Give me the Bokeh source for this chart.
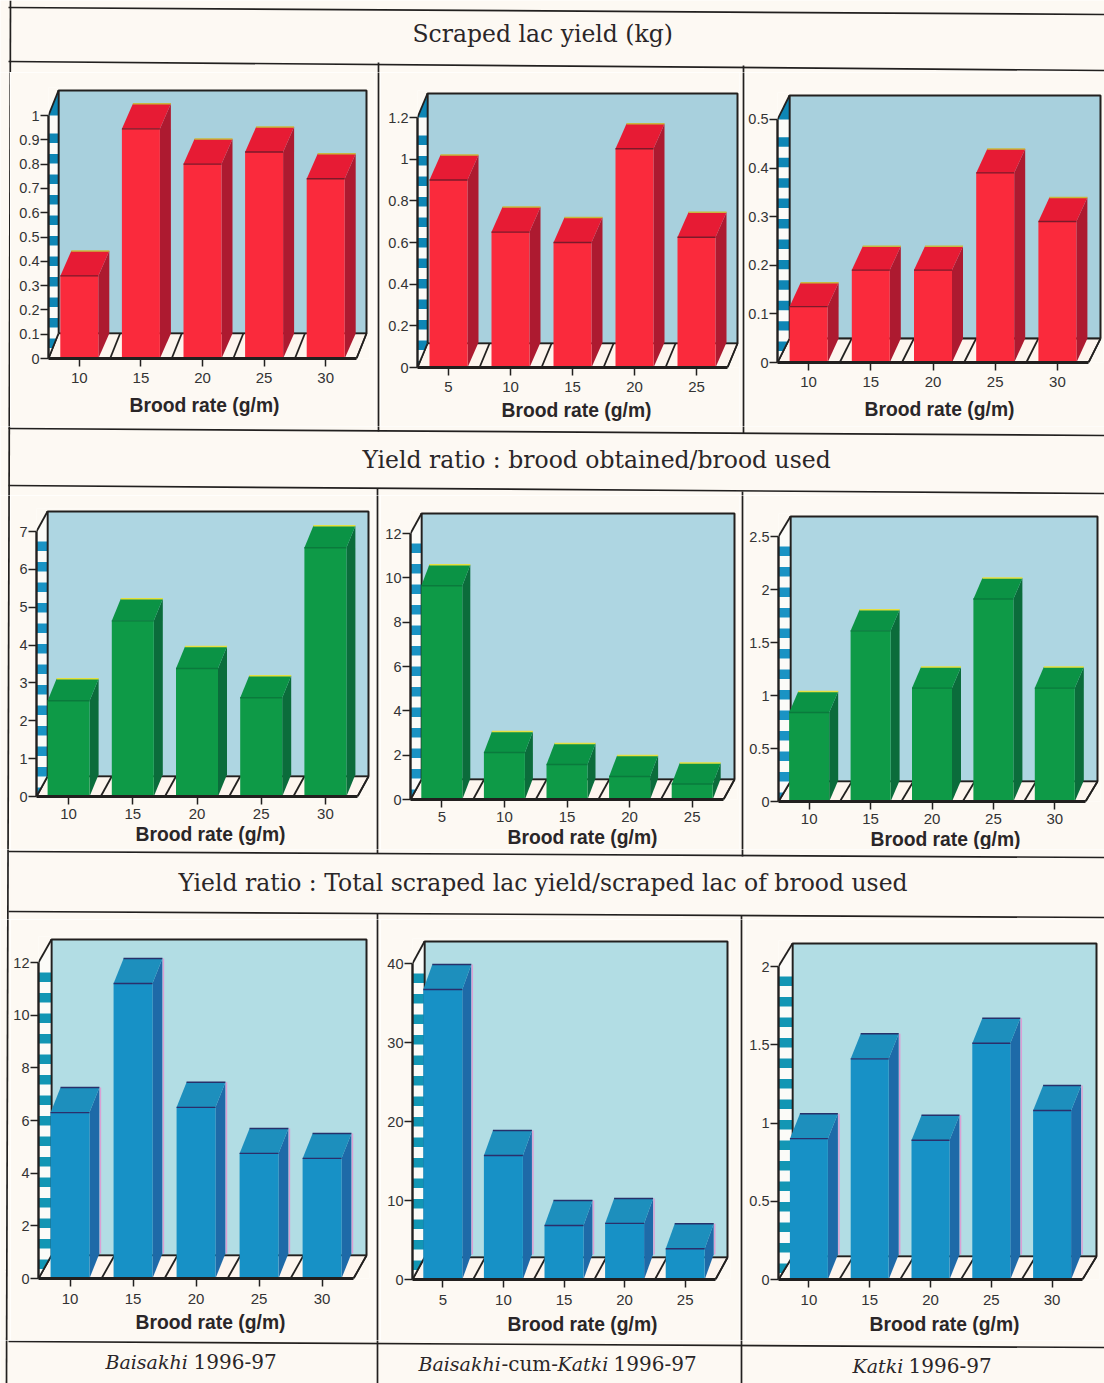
from bokeh.plotting import figure
from bokeh.layouts import column, row
from bokeh.models import (ColumnDataSource, FixedTicker, LinearAxis, NumeralTickFormatter, Range1d, Title)
from bokeh.core.properties import value
from bokeh.embed import file_html
from bokeh.resources import INLINE

# Chart values, one list per panel
rates_a = ["10", "15", "20", "25", "30"]
rates_b = ["5", "10", "15", "20", "25"]

lac_baisakhi = [0.34, 0.945, 0.80, 0.85, 0.74]
lac_mixed = [0.90, 0.65, 0.60, 1.05, 0.625]
lac_katki = [0.115, 0.19, 0.19, 0.39, 0.29]

brood_baisakhi = [2.53, 4.64, 3.38, 2.61, 6.57]
brood_mixed = [9.64, 2.12, 1.58, 1.04, 0.7]
brood_katki = [0.84, 1.61, 1.07, 1.91, 1.07]

total_baisakhi = [6.3, 11.2, 6.5, 4.75, 4.56]
total_mixed = [36.7, 15.7, 6.84, 7.1, 3.9]
total_katki = [0.90, 1.41, 0.89, 1.51, 1.08]

ticks_lac_a = [0, 0.1, 0.2, 0.3, 0.4, 0.5, 0.6, 0.7, 0.8, 0.9, 1]
ticks_lac_b = [0, 0.2, 0.4, 0.6, 0.8, 1, 1.2]
ticks_lac_c = [0, 0.1, 0.2, 0.3, 0.4, 0.5]
ticks_brood_a = [0, 1, 2, 3, 4, 5, 6, 7]
ticks_brood_b = [0, 2, 4, 6, 8, 10, 12]
ticks_brood_c = [0, 0.5, 1, 1.5, 2, 2.5]
ticks_total_a = [0, 2, 4, 6, 8, 10, 12]
ticks_total_b = [0, 10, 20, 30, 40]
ticks_total_c = [0, 0.5, 1, 1.5, 2]

title_lac = "Scraped lac yield (kg)"
title_brood = "Yield ratio : brood obtained/brood used"
title_total = "Yield ratio : Total scraped lac yield/scraped lac of brood used"
x_title = "Brood rate (g/m)"
X_TITLE_WIDTH = 150

PAPER = "#fdf9f3"
INK = "#22201f"
RED = dict(front="#fa2a3c", top="#e71b34", side="#ad1a30", edge="#c8b83c", line="#7c1a2a", stripe="#0e86b5", wall="#a8d0dd", fringe=None)
GREEN = dict(front="#0e9a47", top="#0b9345", side="#0b6c3b", edge="#e6e040", line="#0a7a3c", stripe="#1a93c4", wall="#aed6e2", fringe=None)
BLUE = dict(front="#1791c6", top="#1d8fbd", side="#1e6aa8", edge="#27306a", line="#2b2f6b", stripe="#1296b4", wall="#b2dde4", fringe="#dba0d4")

# Printed rules of the page: they lean a little, as on a scanned sheet
PAGE_RULES = [
    [(10, 0), (6, 1383)],
    [(8, 7), (1104, 14)],
    [(8, 61), (1104, 70)],
    [(8, 428), (1104, 435)],
    [(8, 485), (1104, 493)],
    [(8, 851), (1104, 857)],
    [(8, 911), (1104, 917)],
    [(8, 1341), (1104, 1347)],
    [(378, 62), (378, 431)],
    [(377, 488), (377, 853)],
    [(377, 913), (377, 1383)],
    [(743, 65), (743, 433)],
    [(742, 491), (742, 856)],
    [(741, 915), (741, 1383)],
]


def panel(cell, axis, wall, bar, rates, values, ticks, pal, label_x, label_gap, stripe_start, top_blue, tick_gap):
    fx, fy, fw, fh = cell
    x0, y0, xr, yt = axis
    dx, dy = wall
    bw, bdx, bdy = bar
    slot = (xr - x0) / len(rates)
    scale = (y0 - yt) / ticks[-1]
    ddx, ddy = dx / slot, dy / scale
    bx, by = bdx / slot, bdy / scale
    n = len(rates)
    frame_right = min(int(xr + dx + 3), fx + fw)
    frame_top = int(yt - dy - 3)
    x_end = (frame_right - x0) / slot
    y_end = (y0 - frame_top) / scale

    p = figure(width=fw, height=fh, output_backend="svg", toolbar_location=None,
               x_range=Range1d(0, x_end), y_range=Range1d(0, y_end),
               x_axis_type=None, y_axis_type=None, frame_align=False,
               min_border_left=x0 - fx, min_border_right=fx + fw - frame_right,
               min_border_top=frame_top - fy, min_border_bottom=fy + fh - y0,
               background_fill_color=PAPER, border_fill_color=PAPER, outline_line_color=None)
    p.grid.visible = False

    # Back wall and floor
    top = ticks[-1]
    p.patch([ddx, n + ddx, n + ddx, ddx], [ddy, ddy, top + ddy, top + ddy], fill_color=pal["wall"],
            line_color=INK, line_width=2)
    p.patch([0, n, n + ddx, ddx], [0, 0, ddy, ddy], fill_color="#fdf5ee", line_color=INK, line_width=1.6)

    # Striped left wall; low stripes stop at the slanted edge of the floor
    p.patch([0, ddx, ddx, 0], [0, ddy, top + ddy, top], fill_color="#fbfbf8", line_color=None)

    def reach(y):
        return min(y / ddy, 1) * ddx

    stripes_x, stripes_y = [], []
    band_h = 9.5 / scale
    period = 20.5 / scale
    y = top - stripe_start / scale
    while y > 0:
        lo, hi = max(y - band_h, 0), y
        if lo < ddy < hi:
            stripes_x.append([0, 0, ddx, ddx, reach(lo)])
            stripes_y.append([lo, hi, hi, ddy, lo])
        else:
            stripes_x.append([0, 0, reach(hi), reach(lo)])
            stripes_y.append([lo, hi, hi, lo])
        y -= period
    if top_blue:
        stripes_x.append([0, ddx, ddx])
        stripes_y.append([top, top + ddy, top])
    p.patches(stripes_x, stripes_y, fill_color=pal["stripe"], line_color=None)
    p.line([ddx, ddx], [ddy, top + ddy], line_color=INK, line_width=1.6)
    p.line([0, ddx], [top, top + ddy], line_color=INK, line_width=1.8)

    # Divisions of the floor
    p.segment(x0=list(range(n + 1)), y0=[0] * (n + 1),
              x1=[i + ddx for i in range(n + 1)], y1=[ddy] * (n + 1), line_color=INK, line_width=1.8)

    # Bars: side, top and front faces
    w = bw / slot
    lefts = [i + 0.5 - w / 2 for i in range(n)]
    rights = [l + w for l in lefts]
    centers = [i + 0.5 for i in range(n)]
    p.patches([[r, r + bx, r + bx, r] for r in rights],
              [[0, by, v + by, v] for v in values], fill_color=pal["side"], line_color=None)
    p.patches([[l, r, r + bx, l + bx] for l, r in zip(lefts, rights)],
              [[v, v, v + by, v + by] for v in values], fill_color=pal["top"], line_color=None)
    src = ColumnDataSource(dict(x=centers, top=values))
    p.vbar(x="x", top="top", bottom=0, width=w, source=src, fill_color=pal["front"], line_color=None)
    p.segment(x0=lefts, y0=values, x1=rights, y1=values, line_color=pal["line"], line_width=1.4)
    p.segment(x0=[l + bx for l in lefts], y0=[v + by for v in values],
              x1=[r + bx for r in rights], y1=[v + by for v in values],
              line_color=pal["edge"], line_width=1.5)
    if pal["fringe"]:
        p.segment(x0=[r + bx + 1 / slot for r in rights], y0=[by for _ in values],
                  x1=[r + bx + 1 / slot for r in rights], y1=[v + by for v in values],
                  line_color=pal["fringe"], line_width=1.5)

    # Axes
    yaxis = LinearAxis(ticker=FixedTicker(ticks=ticks), formatter=NumeralTickFormatter(format="0.[0]"),
                       bounds=(0, top), axis_line_color=INK, axis_line_width=2.4,
                       major_tick_line_color=INK, major_tick_line_width=1.5,
                       major_tick_out=8, major_tick_in=0, minor_tick_line_color=None,
                       major_label_standoff=1, major_label_text_font="Liberation Sans",
                       major_label_text_font_size="14.5px", major_label_text_color="#333333")
    p.add_layout(yaxis, "left")
    xaxis = LinearAxis(ticker=FixedTicker(ticks=centers),
                       major_label_overrides={c: t for c, t in zip(centers, rates)},
                       bounds=(0, n), axis_line_color=INK, axis_line_width=3,
                       major_tick_line_color=INK, major_tick_line_width=1.5,
                       major_tick_out=8, major_tick_in=0, minor_tick_line_color=None,
                       major_label_standoff=tick_gap, major_label_text_font="Liberation Sans",
                       major_label_text_font_size="15px", major_label_text_color="#333333")
    p.add_layout(xaxis, "below")

    # The axis title is set as a left-aligned title line so it can sit where the page has it
    p.add_layout(Title(text=x_title, align="left", offset=label_x - X_TITLE_WIDTH / 2 - x0,
                       standoff=label_gap, text_font="Liberation Sans", text_font_style="bold",
                       text_font_size="19.3px", text_color="#2a2628"), "below")
    return p


def strip(fx, fy, fw, fh, texts=()):
    # A piece of bare page, addressed directly in page pixels
    p = figure(width=fw, height=fh, output_backend="svg", toolbar_location=None,
               x_range=Range1d(fx, fx + fw), y_range=Range1d(fy + fh, fy),
               x_axis_type=None, y_axis_type=None, min_border=0, frame_align=False,
               background_fill_color=PAPER, border_fill_color=PAPER, outline_line_color=None)
    p.grid.visible = False
    for (ax, ay), (bx, by) in PAGE_RULES:
        p.line([ax, bx], [ay, by], line_color=INK, line_width=1.7)
    for x, y, txt, font, size, style in texts:
        p.text([x], [y], text=[txt], text_font=value(font), text_font_size=f"{size}px",
               text_font_style=style, text_baseline="middle", text_align="left", text_color="#2a2628")
    return p


SERIF = "DejaVu Serif"

top_band = strip(0, 0, 1104, 72, [(412, 33, title_lac, SERIF, 23.5, "normal")])
mid_band = strip(0, 426, 1104, 69, [(362, 459, title_brood, SERIF, 23.5, "normal")])
low_band = strip(0, 849, 1104, 70, [(178, 882, title_total, SERIF, 23.5, "normal")])
foot_band = strip(0, 1340, 1104, 43, [
    (105, 1361, "Baisakhi", SERIF, 19, "italic"),
    (193, 1361, "1996-97", SERIF, 20, "normal"),
    (418, 1363, "Baisakhi", SERIF, 19, "italic"),
    (501, 1363, "-cum-", SERIF, 20, "normal"),
    (557, 1363, "Katki", SERIF, 19, "italic"),
    (613, 1363, "1996-97", SERIF, 20, "normal"),
    (852, 1365, "Katki", SERIF, 19, "italic"),
    (908, 1365, "1996-97", SERIF, 20, "normal"),
])


def chart_row(fy, fh, charts):
    cells = [(10, 364), (380, 359), (745, 359)]
    gutters = [(0, 10), (374, 6), (739, 6)]
    kids = []
    for (gx, gw), (cx, cw), args in zip(gutters, cells, charts):
        kids.append(strip(gx, fy, gw, fh))
        kids.append(panel((cx, fy, cw, fh), *args))
    return row(*kids, spacing=0)


row1 = chart_row(72, 354, [
    ((48, 358, 356, 115), (10, 25), (38, 11, 25), rates_a, lac_baisakhi, ticks_lac_a, RED, 204, 15, 18, True, 6),
    ((417, 367, 727, 117), (10, 24), (38, 11, 25), rates_b, lac_mixed, ticks_lac_b, RED, 576, 7, 18, True, 6),
    ((777, 363, 1088, 119), (12, 24), (38, 11, 24), rates_a, lac_katki, ticks_lac_c, RED, 939, 14, 18, True, 6),
])
row2 = chart_row(495, 354, [
    ((36, 796, 357, 531), (11, 20), (42, 9, 22), rates_a, brood_baisakhi, ticks_brood_a, GREEN, 210, 0, 10, False, 4),
    ((410, 799, 723, 533), (11, 20), (41, 8, 21), rates_b, brood_mixed, ticks_brood_b, GREEN, 582, 0, 10, False, 4),
    ((778, 801, 1085, 536), (12, 20), (40, 9, 21), rates_a, brood_katki, ticks_brood_c, GREEN, 945, 0, 10, False, 4),
])
row3 = chart_row(919, 421, [
    ((37, 1278, 353, 962), (13, 23), (39, 10, 25), rates_a, total_baisakhi, ticks_total_a, BLUE, 209, 7, 10, False, 7),
    ((412, 1279, 715, 963), (12, 22), (39, 9, 25), rates_b, total_mixed, ticks_total_b, BLUE, 582, 8, 10, False, 7),
    ((778, 1279, 1082, 966), (14, 23), (38, 10, 25), rates_a, total_katki, ticks_total_c, BLUE, 944, 9, 10, False, 7),
])

page = column(top_band, row1, mid_band, row2, low_band, row3, foot_band, spacing=0)
open("out.html", "w").write(file_html(page, INLINE))
